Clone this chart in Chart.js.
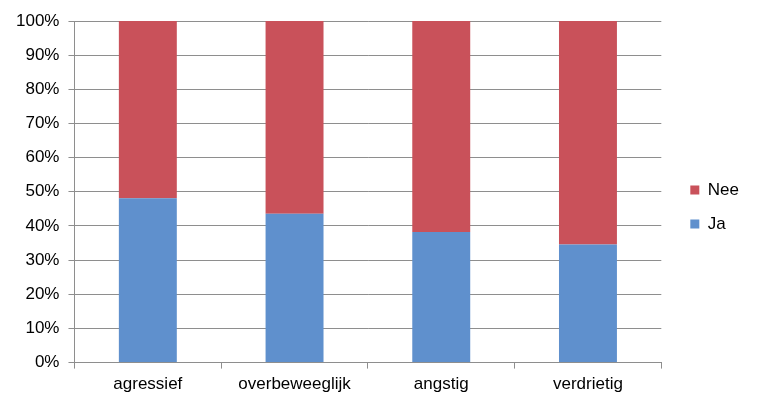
<!DOCTYPE html>
<html>
<head>
<meta charset="utf-8">
<script src="https://cdn.jsdelivr.net/npm/chart.js@4"></script>
<style>
html,body{margin:0;padding:0;background:#fff;}
#wrap{width:757px;height:406px;position:relative;}
</style>
</head>
<body>
<div id="wrap"><canvas id="c" width="757" height="406"></canvas></div>
<script>
const categories = ["agressief", "overbeweeglijk", "angstig", "verdrietig"];
const jaValues = [48.1, 43.6, 38.2, 34.6];
const neeValues = [51.9, 56.4, 61.8, 65.4];
const yTickLabels = ["0%","10%","20%","30%","40%","50%","60%","70%","80%","90%","100%"];

const FONT = "'Liberation Sans', Arial, sans-serif";
const GRID = "#8e8e8e";

new Chart(document.getElementById('c'), {
  type: 'bar',
  data: {
    labels: categories,
    datasets: [
      { label: 'Ja', data: jaValues, backgroundColor: '#5F90CD', borderWidth: 0,
        categoryPercentage: 1, barPercentage: 0.395 },
      { label: 'Nee', data: neeValues, backgroundColor: '#C9515A', borderWidth: 0,
        categoryPercentage: 1, barPercentage: 0.395 }
    ]
  },
  options: {
    responsive: false,
    animation: false,
    devicePixelRatio: 1,
    layout: { padding: { left: 7, right: 8, top: 21, bottom: 13 } },
    plugins: {
      tooltip: { enabled: false },
      legend: {
        position: 'right',
        reverse: true,
        labels: {
          font: { family: FONT, size: 17 },
          color: '#000',
          boxWidth: 9, boxHeight: 9,
          padding: 17
        }
      }
    },
    scales: {
      x: {
        stacked: true,
        grid: { display: true, drawOnChartArea: false, drawTicks: true, tickLength: 6, color: GRID, offset: true },
        border: { color: GRID, width: 1 },
        ticks: { font: { family: FONT, size: 17 }, color: '#000', padding: 6 },
        afterFit: (s) => { s.height = s.height - 8; }
      },
      y: {
        stacked: true,
        min: 0, max: 100,
        grid: { color: GRID, tickLength: 6, lineWidth: 1 },
        border: { color: GRID, width: 1 },
        ticks: {
          stepSize: 10,
          font: { family: FONT, size: 17 }, color: '#000', padding: 9,
          callback: (v, i) => yTickLabels[i]
        }
      },
      gap: {
        type: 'linear',
        position: 'right',
        display: true,
        grid: { display: false, drawTicks: false },
        border: { display: false },
        ticks: { display: false },
        afterFit: (s) => { s.width = 12; }
      }
    }
  }
});
</script>
</body>
</html>
